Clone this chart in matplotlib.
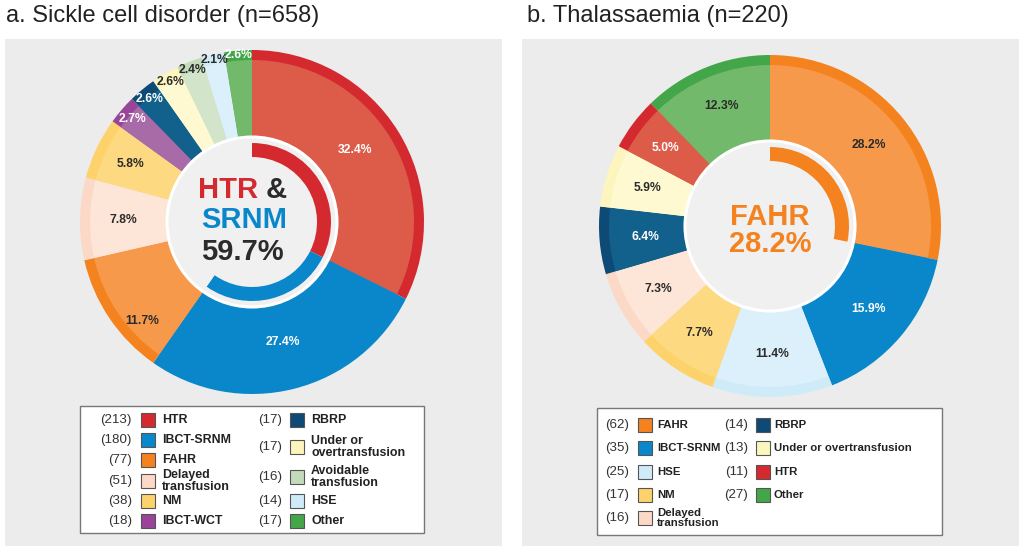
import numpy as np
import matplotlib
matplotlib.use("Agg")
import matplotlib.pyplot as plt
from matplotlib.patches import Rectangle, Circle

plt.rcParams['font.family'] = ['Liberation Sans', 'DejaVu Sans']

# ---- data -------------------------------------------------------------
scd_keys = ["HTR", "IBCT-SRNM", "FAHR", "Delayed", "NM", "IBCT-WCT",
            "RBRP", "Under", "Avoidable", "HSE", "Other"]
scd_counts = [213, 180, 77, 51, 38, 18, 17, 17, 16, 14, 17]
scd_highlight = ["HTR", "IBCT-SRNM"]

thal_keys = ["FAHR", "IBCT-SRNM", "HSE", "NM", "Delayed", "RBRP",
             "Under", "HTR", "Other"]
thal_counts = [62, 35, 25, 17, 16, 14, 13, 11, 27]
thal_highlight = ["FAHR"]

scd_names = {
    "HTR": "HTR", "IBCT-SRNM": "IBCT-SRNM", "FAHR": "FAHR",
    "Delayed": "Delayed\ntransfusion", "NM": "NM", "IBCT-WCT": "IBCT-WCT",
    "RBRP": "RBRP", "Under": "Under or\novertransfusion",
    "Avoidable": "Avoidable\ntransfusion", "HSE": "HSE", "Other": "Other",
}
thal_names = dict(scd_names, Under="Under or overtransfusion")

# ---- styles -----------------------------------------------------------
# (outer band colour, inner fill colour)
COLORS = {
    "HTR": ("#d42a2f", "#dc5b49"),
    "IBCT-SRNM": ("#0a87cb", "#0a87cb"),
    "FAHR": ("#f4821f", "#f7994b"),
    "Delayed": ("#fbd9c6", "#fde5d7"),
    "NM": ("#fdd26a", "#fdda82"),
    "IBCT-WCT": ("#9a4499", "#a96aa8"),
    "RBRP": ("#0d4a75", "#12608c"),
    "Under": ("#fcf5bd", "#fef9d0"),
    "Avoidable": ("#c3dbba", "#d2e5cb"),
    "HSE": ("#d0ebf8", "#dcf0fb"),
    "Other": ("#43a648", "#73b96c"),
}
DARK = "#2b2b2b"
H = 549

scd_label_r = [0.73, 0.72, 0.86, 0.75, 0.78, 0.92, 0.93, 0.94, 0.95, 0.97, 0.975]
scd_label_shift = [3, 0, 8, 0, 0, 0, 0, 0, 0, 0, 0]
scd_label_c = ["white", "white", DARK, DARK, DARK, "white", "white", DARK, DARK, DARK, "white"]
thal_label_r = [0.75, 0.75, 0.75, 0.75, 0.75, 0.73, 0.75, 0.76, 0.76]
thal_label_shift = [0, 0, 0, 0, 0, 0, 0, 0, 0]
thal_label_c = [DARK, "white", DARK, DARK, DARK, "white", DARK, "white", DARK]


def draw_donut(ax, keys, counts, center, radius, hole, label_r, label_shift, label_c, highlight):
    full = [COLORS[k][0] for k in keys]
    soft = [COLORS[k][1] for k in keys]
    kw = dict(center=center, startangle=90, counterclock=False)
    ax.pie(counts, colors=full, radius=radius,
           wedgeprops=dict(width=radius - hole, linewidth=0), **kw)
    ax.pie(counts, colors=soft, radius=radius - 10,
           wedgeprops=dict(width=radius - 10 - hole, linewidth=0), **kw)

    frac = np.array(counts) / sum(counts)
    mids = np.cumsum(frac) - frac / 2
    theta = np.deg2rad(90 - 360 * mids + np.array(label_shift))
    for f, t, rr, col in zip(frac, theta, label_r, label_c):
        ax.text(center[0] + rr * radius * np.cos(t), center[1] + rr * radius * np.sin(t),
                f"{f * 100:.1f}%", ha="center", va="center", fontsize=8.7,
                fontweight="bold", color=col)

    # centre disc with white rim
    ax.add_patch(Circle(center, hole, facecolor="#f0f0f0", edgecolor="white", lw=2.2, zorder=3))

    # inner arc showing the highlighted share
    hi = [counts[keys.index(k)] for k in highlight]
    rest = sum(counts) - sum(hi)
    wedges, _ = ax.pie(hi + [rest], colors=[COLORS[k][0] for k in highlight] + ["none"],
                       radius=79, wedgeprops=dict(width=14, linewidth=0), **kw)
    for w in wedges:
        w.set_zorder(4)
    return 100 * sum(hi) / sum(counts)


def draw_legend(ax, box, names, columns, label_size):
    x0, y0, x1, y1 = box
    ax.add_patch(Rectangle((x0, H - y1), x1 - x0, y1 - y0, facecolor="white",
                           edgecolor="#777777", lw=1, zorder=2))
    for (cnt_x, sq_x, lab_x, rows) in columns:
        for key, count, y in rows:
            ax.text(cnt_x, H - y, f"({count})", ha="right", va="center",
                    fontsize=9.6, color="#333333", zorder=3)
            ax.add_patch(Rectangle((sq_x, H - y - 7), 14, 14, facecolor=COLORS[key][0],
                                   edgecolor="#555555", lw=0.8, zorder=3))
            ax.text(lab_x, H - y, names[key], ha="left", va="center",
                    fontsize=label_size, fontweight="bold", color="#222222",
                    linespacing=0.92, zorder=3)


fig = plt.figure(figsize=(10.24, 5.49), dpi=100)
ax = fig.add_axes([0, 0, 1, 1])

# panels
ax.add_patch(Rectangle((5, H - 546), 497, 507, facecolor="#ececec", edgecolor="none", zorder=0))
ax.add_patch(Rectangle((522, H - 546), 497, 507, facecolor="#ececec", edgecolor="none", zorder=0))

ax.text(6, H - 22, "a. Sickle cell disorder (n=658)", fontsize=17, color="#222222", va="baseline")
ax.text(527, H - 22, "b. Thalassaemia (n=220)", fontsize=17, color="#222222", va="baseline")

# a. sickle cell
c1 = (252, H - 222)
pct1 = draw_donut(ax, scd_keys, scd_counts, c1, 172, 85, scd_label_r, scd_label_shift,
                  scd_label_c, scd_highlight)
ax.text(c1[0] + 6, H - 198, "HTR", ha="right", va="baseline", fontsize=21,
        fontweight="bold", color=COLORS["HTR"][0], zorder=5)
ax.text(c1[0] + 6, H - 198, " &", ha="left", va="baseline", fontsize=21,
        fontweight="bold", color=DARK, zorder=5)
ax.text(c1[0] - 8, H - 228, "SRNM", ha="center", va="baseline", fontsize=21,
        fontweight="bold", color=COLORS["IBCT-SRNM"][0], zorder=5)
ax.text(c1[0] - 10, H - 260, f"{pct1:.1f}%", ha="center", va="baseline", fontsize=21,
        fontweight="bold", color=DARK, zorder=5)

# b. thalassaemia
c2 = (770, H - 226)
pct2 = draw_donut(ax, thal_keys, thal_counts, c2, 171, 85, thal_label_r, thal_label_shift,
                  thal_label_c, thal_highlight)
ax.text(c2[0], H - 225, "FAHR", ha="center", va="baseline", fontsize=21,
        fontweight="bold", color=COLORS["FAHR"][0], zorder=5)
ax.text(c2[0], H - 252, f"{pct2:.1f}%", ha="center", va="baseline", fontsize=21,
        fontweight="bold", color=COLORS["FAHR"][0], zorder=5)

# legends
scd_rows = list(zip(scd_keys, scd_counts))
draw_legend(ax, (80, 406, 424, 533), scd_names, [
    (132, 141, 162, [r + (y,) for r, y in zip(scd_rows[:6], [420, 440, 460, 481, 501, 521])]),
    (282, 290, 311, [r + (y,) for r, y in zip(scd_rows[6:], [420, 447, 477, 501, 521])]),
], 8.9)
thal_rows = list(zip(thal_keys, thal_counts))
draw_legend(ax, (597, 408, 942, 535), thal_names, [
    (629, 638, 657, [r + (y,) for r, y in zip(thal_rows[:5], [425, 448, 472, 495, 518])]),
    (748, 756, 774, [r + (y,) for r, y in zip(thal_rows[5:], [425, 448, 472, 495])]),
], 8.2)

ax.set_xlim(0, 1024)
ax.set_ylim(0, H)
ax.set_aspect("equal")
ax.axis("off")

fig.savefig("out.png", dpi=100, facecolor="white")
